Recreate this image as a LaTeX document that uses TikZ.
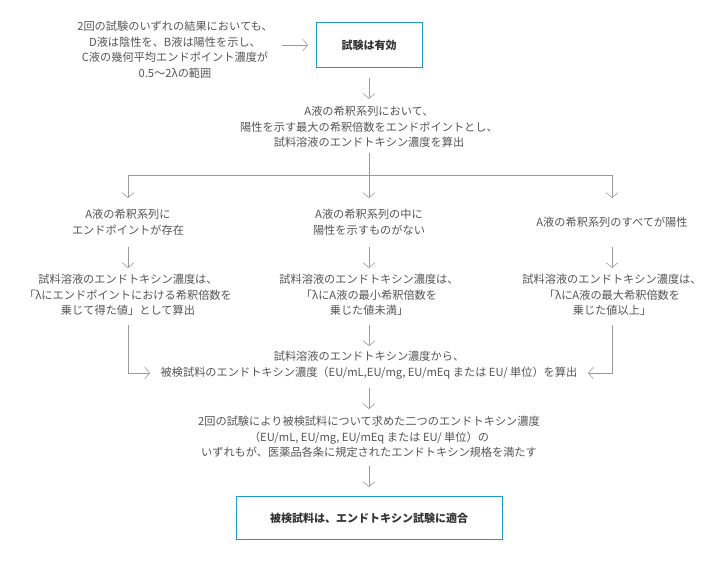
\documentclass[tikz,border=0pt]{standalone}
\usepackage{fontspec}
\setmainfont{Noto Sans CJK JP}
\usetikzlibrary{arrows.meta}
\definecolor{txtgray}{HTML}{555555}
\definecolor{linegray}{HTML}{9A9A9A}
\definecolor{framecyan}{HTML}{1E9CC4}
\begin{document}
\begin{tikzpicture}[
    x=1pt, y=-1pt,
    note/.style={align=center, text=txtgray, font=\fontsize{11.2}{15.5}\selectfont, inner sep=0pt},
    result/.style={rectangle, draw=framecyan, thick, align=center, text=black!80, font=\fontsize{11}{15.5}\selectfont\bfseries},
    arrow/.style={-{Straight Barb[length=5pt,width=12pt]}, linegray, semithick},
    link/.style={linegray, semithick}
]
\useasboundingbox (0,0) rectangle (720,560);

\node[note] (cond) at (175,50) {2回の試験のいずれの結果においても、\\D液は陰性を、B液は陽性を示し、\\C液の幾何平均エンドポイント濃度が\\0.5～2λの範囲};
\node[result, minimum width=106pt, minimum height=45pt] (valid) at (369,45) {試験は有効};

\node[note] (calc) at (369,127) {A液の希釈系列において、\\陽性を示す最大の希釈倍数をエンドポイントとし、\\試料溶液のエンドトキシン濃度を算出};

\node[note] (caseL) at (128,222) {A液の希釈系列に\\エンドポイントが存在};
\node[note] (caseM) at (369,222) {A液の希釈系列の中に\\陽性を示すものがない};
\node[note] (caseR) at (612,222) {A液の希釈系列のすべてが陽性};

\node[note] (valL) at (128,295) {試料溶液のエンドトキシン濃度は、\\「λにエンドポイントにおける希釈倍数を\\乗じて得た値」として算出};
\node[note] (valM) at (369,295) {試料溶液のエンドトキシン濃度は、\\「λにA液の最小希釈倍数を\\乗じた値未満」};
\node[note] (valR) at (612,295) {試料溶液のエンドトキシン濃度は、\\「λにA液の最大希釈倍数を\\乗じた値以上」};

\node[note] (sample) at (369,365) {試料溶液のエンドトキシン濃度から、\\被検試料のエンドトキシン濃度（EU/mL,EU/mg, EU/mEq または EU/ 単位）を算出};

\node[note] (check) at (369,437) {2回の試験により被検試料について求めた二つのエンドトキシン濃度\\（EU/mL, EU/mg, EU/mEq または EU/ 単位）の\\いずれもが、医薬品各条に規定されたエンドトキシン規格を満たす};

\node[result, minimum width=266pt, minimum height=43pt] (pass) at (369,518) {被検試料は、エンドトキシン試験に適合};

\coordinate (split) at (369,175);

\draw[arrow] (282,45) -- (valid.west -| 308,0);
\draw[arrow] (valid.south) ++(0,10) -- ++(0,21);
\draw[link] (369,153) -- (split);
\draw[link] (128,175) -- (612,175);
\foreach \x in {128,369,612} {
    \draw[arrow] (\x,175) -- (\x,198);
    \draw[arrow] (\x,247) -- (\x,268);
}
\draw[arrow] (369,325) -- (369,346);
\draw[arrow] (128,325) |- (150,373);
\draw[arrow] (612,325) |- (588,373);
\draw[arrow] (369,388) -- (369,409);
\draw[arrow] (369,466) -- (pass.north |- 0,487);

\end{tikzpicture}
\end{document}
